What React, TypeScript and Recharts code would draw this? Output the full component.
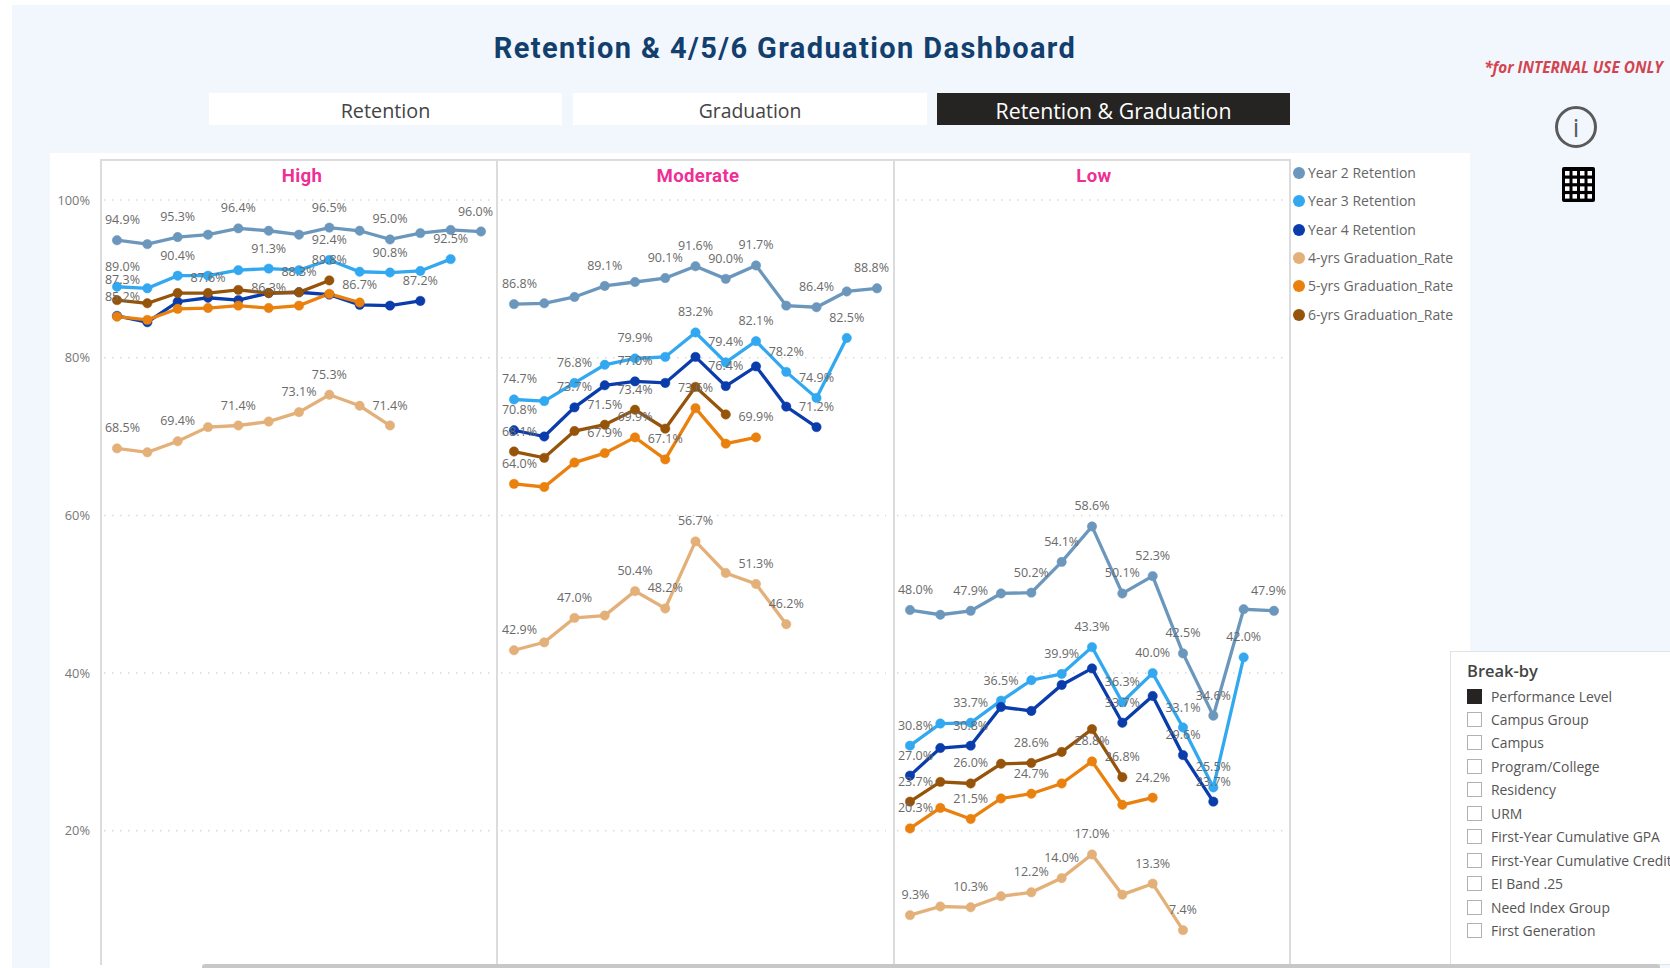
import { CartesianGrid, LabelList, Line, LineChart, XAxis, YAxis } from "recharts";

const cohorts = ["C1", "C2", "C3", "C4", "C5", "C6", "C7", "C8", "C9", "C10", "C11", "C12", "C13"];
const yTicks = [20, 40, 60, 80, 100];

const seriesNames = [
  "Year 2 Retention",
  "Year 3 Retention",
  "Year 4 Retention",
  "4-yrs Graduation_Rate",
  "5-yrs Graduation_Rate",
  "6-yrs Graduation_Rate",
];
const seriesColors = ["#6b97bd", "#32a8f0", "#0a3dab", "#e3b07a", "#ea800e", "#96540a"];

const highY2 = [94.9, 94.4, 95.3, 95.6, 96.4, 96.1, 95.6, 96.5, 96.1, 95.0, 95.8, 96.2, 96.0];
const highY3 = [89.0, 88.8, 90.4, 90.4, 91.1, 91.3, 91.1, 92.4, 90.9, 90.8, 91.0, 92.5];
const highY4 = [85.3, 84.5, 87.1, 87.6, 87.3, 88.2, 88.3, 88.0, 86.7, 86.6, 87.2];
const highG4 = [68.5, 68.0, 69.4, 71.2, 71.4, 71.9, 73.1, 75.3, 73.9, 71.4];
const highG5 = [85.2, 84.8, 86.2, 86.3, 86.6, 86.3, 86.6, 88.1, 87.0];
const highG6 = [87.3, 86.9, 88.2, 88.2, 88.6, 88.2, 88.3, 89.8];

const modY2 = [86.8, 86.9, 87.7, 89.1, 89.6, 90.1, 91.6, 90.0, 91.7, 86.6, 86.4, 88.4, 88.8];
const modY3 = [74.7, 74.5, 76.8, 79.1, 79.9, 80.1, 83.2, 79.4, 82.1, 78.2, 74.9, 82.5];
const modY4 = [70.8, 70.0, 73.7, 76.5, 77.0, 76.8, 80.1, 76.4, 78.9, 73.8, 71.2];
const modG4 = [42.9, 43.9, 47.0, 47.3, 50.4, 48.2, 56.7, 52.7, 51.3, 46.2];
const modG5 = [64.0, 63.6, 66.7, 67.9, 69.9, 67.1, 73.6, 69.1, 69.9];
const modG6 = [68.1, 67.3, 70.7, 71.5, 73.4, 71.0, 76.3, 72.8];

const lowY2 = [48.0, 47.4, 47.9, 50.1, 50.2, 54.1, 58.6, 50.1, 52.3, 42.5, 34.6, 48.1, 47.9];
const lowY3 = [30.8, 33.6, 33.7, 36.5, 39.1, 39.9, 43.3, 36.3, 40.0, 33.1, 25.5, 42.0];
const lowY4 = [27.0, 30.5, 30.8, 35.7, 35.2, 38.5, 40.6, 33.7, 37.1, 29.6, 23.7];
const lowG4 = [9.3, 10.4, 10.3, 11.7, 12.2, 14.0, 17.0, 11.9, 13.3, 7.4];
const lowG5 = [20.3, 22.9, 21.5, 24.1, 24.7, 26.0, 28.8, 23.3, 24.2];
const lowG6 = [23.7, 26.2, 26.0, 28.5, 28.6, 30.0, 32.9, 26.8];

// which points carry a data label, same series order as above
const highLabelled = [
  [0, 2, 4, 7, 9, 12],
  [0, 2, 5, 7, 9, 11],
  [3, 6, 8, 10],
  [0, 2, 4, 6, 7, 9],
  [0, 5],
  [0, 7],
];
const modLabelled = [
  [0, 3, 5, 6, 7, 8, 10, 12],
  [0, 2, 4, 6, 7, 8, 9, 10, 11],
  [0, 2, 4, 7, 10],
  [0, 2, 4, 5, 6, 8, 9],
  [0, 3, 4, 5, 6, 8],
  [0, 3, 4],
];
const lowLabelled = [
  [0, 2, 4, 5, 6, 7, 8, 9, 10, 12],
  [0, 2, 3, 5, 6, 7, 8, 9, 10, 11],
  [0, 2, 7, 9, 10],
  [0, 2, 4, 5, 6, 8, 9],
  [0, 2, 4, 6, 8],
  [0, 2, 4, 7],
];

const breakByItems = [
  "Performance Level",
  "Campus Group",
  "Campus",
  "Program/College",
  "Residency",
  "URM",
  "First-Year Cumulative GPA",
  "First-Year Cumulative Credits",
  "EI Band .25",
  "Need Index Group",
  "First Generation",
];

const buildRows = (series: number[][]) =>
  cohorts.map((cohort, i) => {
    const row: Record<string, string | number | null> = { cohort };
    series.forEach((values, s) => {
      row[`s${s}`] = values[i] ?? null;
    });
    return row;
  });

const panels = [
  { title: "High", left: 50, width: 447, axisWidth: 54, marginLeft: 0, center: 302, rows: buildRows([highY2, highY3, highY4, highG4, highG5, highG6]), labelled: highLabelled },
  { title: "Moderate", left: 497, width: 396, axisWidth: 0, marginLeft: 4, center: 698, rows: buildRows([modY2, modY3, modY4, modG4, modG5, modG6]), labelled: modLabelled },
  { title: "Low", left: 893, width: 397, axisWidth: 0, marginLeft: 4, center: 1094, rows: buildRows([lowY2, lowY3, lowY4, lowG4, lowG5, lowG6]), labelled: lowLabelled },
];

const font = "'Open Sans', sans-serif";

const makeLabel = (shown: number[]) => (props: any) => {
  const { x, y, value, index } = props;
  if (!shown.includes(index) || value == null) return null;
  let tx = x;
  if (index === 0) tx = x + 5.5;
  if (index === cohorts.length - 1) tx = x - 5.5;
  return (
    <text x={tx} y={y - 16} textAnchor="middle" fontSize={12.5} fontFamily={font} fill="#6a6a6a">
      {`${value.toFixed(1)}%`}
    </text>
  );
};

const Panel = ({ panel }: { panel: (typeof panels)[number] }) => (
  <div style={{ position: "absolute", left: panel.left, top: 159, width: panel.width, height: 806, overflow: "hidden" }}>
    <LineChart
      width={panel.width}
      height={830}
      data={panel.rows}
      margin={{ top: 41, right: 7, bottom: 0.5, left: panel.marginLeft }}
    >
      <CartesianGrid vertical={false} stroke="#d9d9d9" strokeDasharray="1.5 6.5" strokeWidth={1.5} />
      <XAxis dataKey="cohort" hide padding={{ left: 13, right: 9 }} />
      <YAxis
        domain={[0, 100]}
        ticks={yTicks}
        hide={panel.axisWidth === 0}
        width={panel.axisWidth}
        axisLine={false}
        tickLine={false}
        tickSize={0}
        tickMargin={14}
        tickFormatter={(v: number) => `${v}%`}
        tick={{ fontSize: 12.8, fontFamily: font, fill: "#777777" }}
      />
      {seriesNames.map((name, s) => (
        <Line
          key={name}
          dataKey={`s${s}`}
          name={name}
          type="linear"
          stroke={seriesColors[s]}
          strokeWidth={3.3}
          dot={{ r: 4.7, fill: seriesColors[s], stroke: seriesColors[s], strokeWidth: 0.5 }}
          isAnimationActive={false}
        >
          <LabelList dataKey={`s${s}`} content={makeLabel(panel.labelled[s])} />
        </Line>
      ))}
    </LineChart>
  </div>
);

const tabs = [
  { text: "Retention", left: 209, width: 353, active: false, size: 19.8 },
  { text: "Graduation", left: 573, width: 354, active: false, size: 19.4 },
  { text: "Retention & Graduation", left: 937, width: 353, active: true, size: 21.3 },
];

const abs = (left: number, top: number, width: number, height: number) =>
  ({ position: "absolute", left, top, width, height }) as const;

export default function App() {
  return (
    <div style={{ position: "absolute", left: 0, top: 0, width: 1670, height: 968, overflow: "hidden", background: "#fff", fontFamily: font }}>
      <div style={{ ...abs(12, 5, 1658, 963), background: "#f2f7fe" }} />
      <div style={{ ...abs(50, 153, 1420, 815), background: "#fff" }} />

      <div style={{ ...abs(385, 26, 800, 44), textAlign: "center", whiteSpace: "nowrap", fontSize: 29, lineHeight: "44px", fontWeight: 700, color: "#123f6d", fontFamily: "Roboto, sans-serif", letterSpacing: 1.4 }}>
        Retention &amp; 4/5/6 Graduation Dashboard
      </div>

      {tabs.map((t) => (
        <div key={t.text} style={{ ...abs(t.left, 93, t.width, 32), background: t.active ? "#252423" : "#fff", color: t.active ? "#fff" : "#444", textAlign: "center", fontSize: t.size, lineHeight: "36px" }}>
          {t.text}
        </div>
      ))}

      <div style={{ ...abs(1463, 56, 200, 22), textAlign: "right", whiteSpace: "nowrap", fontSize: 15.3, lineHeight: "22px", fontWeight: 700, fontStyle: "italic", color: "#d2454f" }}>
        *for INTERNAL USE ONLY
      </div>

      <svg style={abs(1549, 100, 56, 110)} viewBox="0 0 56 110">
        <circle cx={27} cy={27} r={19.5} fill="none" stroke="#5a5a5a" strokeWidth={3} />
        <text x={27} y={37} textAnchor="middle" fontSize={26} fontFamily={font} fill="#5a5a5a">i</text>
        <rect x={13} y={67} width={33} height={35} rx={2} fill="#000" />
        {[0, 1, 2, 3].map((r) =>
          [0, 1, 2, 3].map((c) => (
            <rect key={`${r}-${c}`} x={16 + c * 7.5} y={71 + r * 7.7} width={4.5} height={4.5} fill="#fff" />
          )),
        )}
      </svg>

      {/* panel frame */}
      <div style={{ ...abs(100, 159, 1191, 2), background: "#dcdcdc" }} />
      {[100, 496, 892.5, 1289].map((x) => (
        <div key={x} style={{ ...abs(x, 159, 2, 806), background: "#dcdcdc" }} />
      ))}

      {panels.map((p) => (
        <Panel key={p.title} panel={p} />
      ))}

      {panels.map((p) => (
        <div key={p.title} style={{ ...abs(p.center - 80, 162, 160, 28), textAlign: "center", fontSize: 18.6, lineHeight: "28px", fontWeight: 700, letterSpacing: 0.35, color: "#ee2f96", fontFamily: "Roboto, sans-serif" }}>
          {p.title}
        </div>
      ))}

      {seriesNames.map((name, s) => (
        <div key={name} style={{ ...abs(1293, [163, 191, 220, 248, 276, 305][s], 175, 20) }}>
          <span style={{ ...abs(0, 4, 12, 12), borderRadius: 6, background: seriesColors[s] }} />
          <span style={{ position: "absolute", left: 15, top: 0, fontSize: 14, lineHeight: "20px", color: "#666", whiteSpace: "nowrap" }}>{name}</span>
        </div>
      ))}

      <div style={{ ...abs(1450, 651, 240, 314), background: "#fff", border: "1px solid #e3e3e3", boxSizing: "border-box" }} />
      <div style={{ ...abs(1467, 658, 190, 26), fontSize: 16.5, lineHeight: "26px", fontWeight: 600, color: "#444" }}>Break-by</div>
      {breakByItems.map((item, i) => (
        <div key={item} style={{ ...abs(1467, 685.5 + i * 23.45, 203, 22), whiteSpace: "nowrap", overflow: "hidden" }}>
          <span style={{ ...abs(0, 3, 15, 15), boxSizing: "border-box", background: i === 0 ? "#252423" : "#fff", border: i === 0 ? "none" : "1px solid #b5b0b0" }} />
          <span style={{ position: "absolute", left: 24, top: 0, fontSize: 13.9, lineHeight: "22px", color: "#555" }}>{item}</span>
        </div>
      ))}

      <div style={{ ...abs(202, 964, 1458, 6), background: "#c8c8c8", borderRadius: 3 }} />
    </div>
  );
}
